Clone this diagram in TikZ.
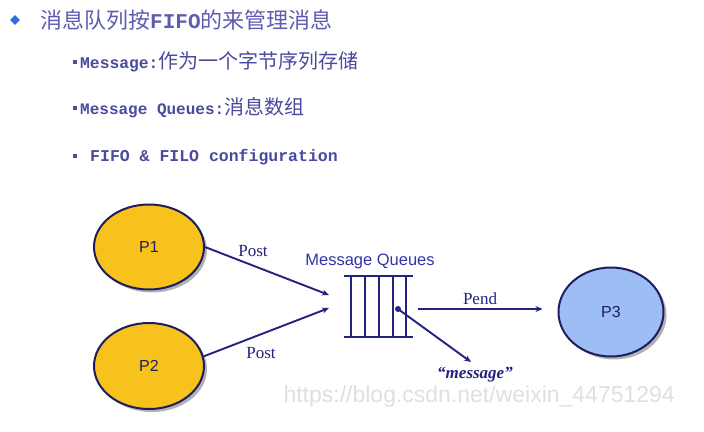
\documentclass[tikz,border=0pt]{standalone}
\usepackage{fontspec}
\setmainfont{Liberation Serif}
\newfontfamily\cjk{Noto Sans CJK SC}
\newfontfamily\monof{Liberation Mono}
\newfontfamily\sansf{Liberation Sans}
\usetikzlibrary{shapes.geometric,arrows.meta,shadows,calc}
\definecolor{navy}{HTML}{222280}
\definecolor{edgec}{HTML}{1E1E5E}
\definecolor{gold}{HTML}{F8C21C}
\definecolor{skyb}{HTML}{9DBEF4}
\definecolor{titlec}{HTML}{5C5CB0}
\definecolor{linec}{HTML}{4A4A9E}
\definecolor{bulletc}{HTML}{2C70DA}
\definecolor{qlabel}{HTML}{3434A8}
\begin{document}
\begin{tikzpicture}[x=1pt,y=-1pt,
  proc/.style={ellipse, draw=edgec, line width=2pt, inner sep=0pt,
    font={\sansf\fontsize{16}{18}\selectfont}, text=edgec,
    drop shadow={shadow xshift=3pt,shadow yshift=-3pt,fill=black,opacity=0.3}},
  conn/.style={draw=navy, line width=1.9pt, -{Stealth[length=7pt,width=6pt]}},
  lbl/.style={font={\fontsize{17}{20}\selectfont}, text=navy, inner sep=0pt},
  txt/.style={anchor=west, inner sep=0pt},
  qline/.style={draw=navy, line width=2pt},
  sqbullet/.style={rectangle, fill=linec, minimum size=4.5pt, inner sep=0pt}
]
\fill[white] (0,0) rectangle (704,431);
\useasboundingbox (0,0) rectangle (704,431);

% header
\node[diamond, fill=bulletc, minimum size=10pt, inner sep=0pt] (bul0) at (15,20) {};
\node[txt, text=titlec] (title) at (40,20)
  {{\cjk\fontsize{22}{26}\selectfont 消息队列按}{\monof\bfseries\fontsize{21}{26}\selectfont FIFO}{\cjk\fontsize{22}{26}\selectfont 的来管理消息}};

\node[sqbullet] (b1) at (75,62) {};
\node[txt, text=linec] (l1) at (80,62)
  {{\monof\bfseries\fontsize{16.3}{20}\selectfont Message:}{\cjk\fontsize{20}{24}\selectfont 作为一个字节序列存储}};
\node[sqbullet] (b2) at (75,108) {};
\node[txt, text=linec] (l2) at (80,108)
  {{\monof\bfseries\fontsize{16}{20}\selectfont Message Queues:}{\cjk\fontsize{20}{24}\selectfont 消息数组}};
\node[sqbullet] (b3) at (75,156) {};
\node[txt, text=linec] (l3) at (90,157)
  {{\monof\bfseries\fontsize{16.5}{20}\selectfont FIFO \& FILO configuration}};

% processes
\node[proc, fill=gold, minimum width=110pt, minimum height=85pt] (p1) at (149,247) {P1};
\node[proc, fill=gold, minimum width=110pt, minimum height=86pt] (p2) at (149,366) {P2};
\node[proc, fill=skyb, minimum width=105pt, minimum height=89pt] (p3) at (611,312) {P3};

% queue
\node[font={\sansf\fontsize{16.5}{19}\selectfont}, text=qlabel, inner sep=0pt] (qname) at (370,261) {Message Queues};
\draw[qline] (344,276) -- (413,276);
\draw[qline] (344,337) -- (413,337);
\foreach \xx in {351,365,379,393,406}
  \draw[qline] (\xx,276) -- (\xx,337);

\coordinate (qin1) at (329,295);
\coordinate (qin2) at (329,308);
\coordinate (qdot) at (398,309);
\coordinate (qout) at (418,309);
\coordinate (msgend) at (471,362);

\fill[navy] (qdot) circle (3pt);

% connectors
\draw[conn] (p1.east) -- (qin1);
\draw[conn] (p2.10) -- (qin2);
\draw[conn, shorten >=15pt] (qout) -- (qout -| p3.west);
\draw[conn] (qdot) -- (msgend);

% labels
\node[lbl] (post1) at (253,251) {Post};
\node[lbl] (post2) at (261,353) {Post};
\node[lbl] (pend) at (480,299) {Pend};
\node[lbl, font={\bfseries\itshape\fontsize{17}{20}\selectfont}] (msg) at (475,375) {“message”};

% watermark
\node[anchor=east, inner sep=0pt, font={\sansf\fontsize{23}{26}\selectfont}, text=black!12] (wm) at (675,397) {https://blog.csdn.net/weixin\_44751294};
\end{tikzpicture}
\end{document}
